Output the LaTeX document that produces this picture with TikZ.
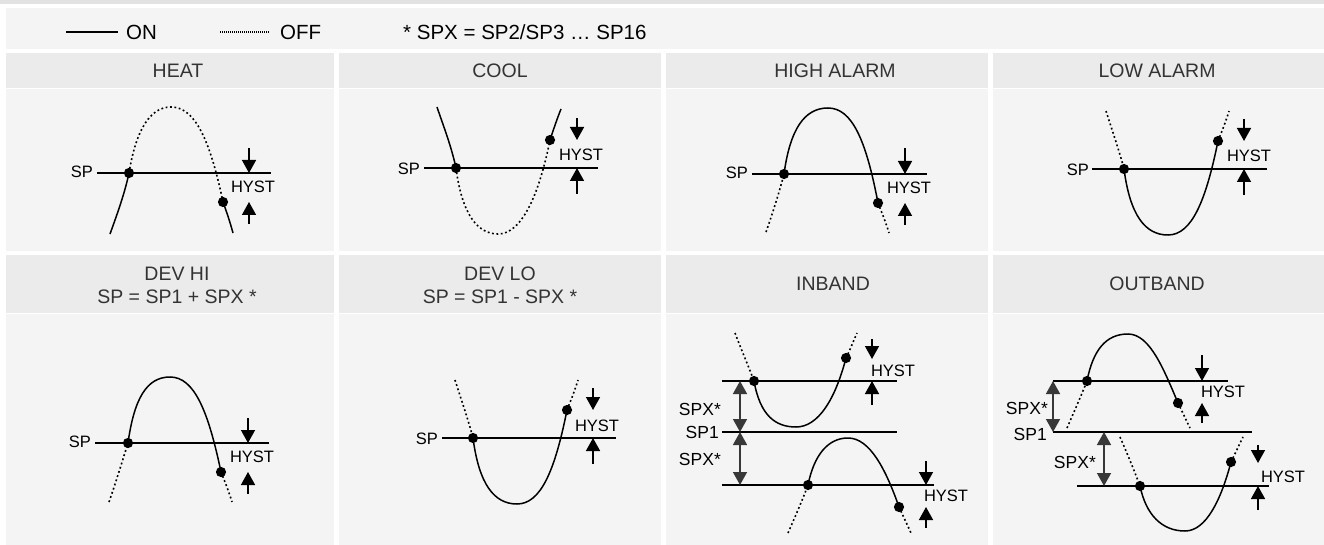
\documentclass[tikz,border=0pt]{standalone}
\usepackage{fontspec}
\setmainfont{Liberation Sans}
\usetikzlibrary{arrows.meta}
\definecolor{hdr}{HTML}{EAEBEA}
\definecolor{bod}{HTML}{F4F4F4}
\definecolor{topband}{HTML}{E2E2E2}
\definecolor{hdrtxt}{HTML}{333333}
\definecolor{dblarr}{HTML}{383838}
\begin{document}
\begin{tikzpicture}[x=1pt,y=-1pt,
  curveon/.style={line width=1.5pt},
  curveoff/.style={line width=1.6pt, dash pattern=on 1.8pt off 2.6pt},
  spline/.style={line width=1.5pt},
  lbl/.style={font=\fontsize{16.5}{18}\selectfont, inner sep=0pt},
  biglbl/.style={font=\fontsize{17.5}{19}\selectfont, inner sep=0pt},
  legendtxt/.style={font=\fontsize{20.5}{23}\selectfont, inner sep=0pt, anchor=west},
  hdrlbl/.style={font=\fontsize{19.5}{23}\selectfont, text=hdrtxt, align=center, inner sep=0pt},
  hyarrow/.style={line width=1.5pt, -{Triangle[length=13pt,width=14pt]}},
  dblarrow/.style={draw=dblarr, line width=1.5pt, {Triangle[length=13pt,width=14pt]}-{Triangle[length=13pt,width=14pt]}},
  dotmark/.style={fill=black}
]
\useasboundingbox (0,0) rectangle (1324,545);
% backgrounds
\fill[white] (0,0) rectangle (1324,545);
\fill[topband] (0,0) rectangle (1324,4);
\fill[bod] (6,8) rectangle (1324,49);
\foreach \a/\b in {6/334, 339/661, 666/988, 993/1324} {
  \fill[hdr] (\a,53) rectangle (\b,88);
  \fill[bod] (\a,89) rectangle (\b,251);
  \fill[hdr] (\a,255) rectangle (\b,313);
  \fill[bod] (\a,314) rectangle (\b,545);
}
% legend
\coordinate (onA) at (66,32); \coordinate (onB) at (118,32);
\draw[line width=1.1pt] (onA) -- (onB);
\node[legendtxt] (on) at (126,32) {ON};
\coordinate (offA) at (220,32); \coordinate (offB) at (270,32);
\draw[line width=1.1pt, dash pattern=on 1pt off 1pt] (offA) -- (offB);
\node[legendtxt] (off) at (280,32) {OFF};
\node[legendtxt] (spxnote) at (403,32) {* SPX = SP2/SP3 … SP16};
% headers
\node[hdrlbl] (t1) at (178,70.5) {HEAT};
\node[hdrlbl] (t2) at (500,70.5) {COOL};
\node[hdrlbl] (t3) at (835,70.5) {HIGH ALARM};
\node[hdrlbl] (t4) at (1157,70.5) {LOW ALARM};
\node[hdrlbl] (t5) at (177,285.5) {DEV HI\\SP = SP1 + SPX *};
\node[hdrlbl] (t6) at (500,285.5) {DEV LO\\SP = SP1 - SPX *};
\node[hdrlbl] (t7) at (833,283.5) {INBAND};
\node[hdrlbl] (t8) at (1157,283.5) {OUTBAND};

% ---------- HEAT ----------
\coordinate (hl) at (97,173); \coordinate (hr) at (271,173);
\draw[spline] (hl) -- (hr);
\node[lbl, anchor=east] (hsp) at (93,172) {SP};
\coordinate (hd1) at (129,173); \coordinate (hd2) at (223,202);
\coordinate (hs) at (110,234); \coordinate (he) at (233,233);
\draw[curveon] (hs) .. controls (118,212) and (125,192) .. (hd1);
\draw[curveoff] (hd1) .. controls (136,130) and (150,107) .. (171,107) .. controls (195,107) and (210,140) .. (hd2);
\draw[curveon] (hd2) .. controls (227,213) and (230,222) .. (he);
\fill[dotmark] (hd1) circle[radius=5.1pt]; \fill[dotmark] (hd2) circle[radius=5.1pt];
\coordinate (ha1) at (249,148); \coordinate (ha1t) at (249,173);
\coordinate (ha2) at (249,224); \coordinate (ha2t) at (249,202);
\draw[hyarrow] (ha1) -- (ha1t); \draw[hyarrow] (ha2) -- (ha2t);
\node[lbl] (hhy) at (253,187) {HYST};

% ---------- COOL ----------
\coordinate (cl) at (424,168); \coordinate (cr) at (598,168);
\draw[spline] (cl) -- (cr);
\node[lbl, anchor=east] (csp) at (420,169) {SP};
\coordinate (cd1) at (456,168); \coordinate (cd2) at (550,140);
\coordinate (cs) at (437,107); \coordinate (ce) at (561,109);
\draw[curveon] (cs) .. controls (443,125) and (451,145) .. (cd1);
\draw[curveoff] (cd1) .. controls (462,215) and (478,234) .. (498,234) .. controls (520,234) and (538,200) .. (cd2);
\draw[curveon] (cd2) .. controls (554,128) and (557,119) .. (ce);
\fill[dotmark] (cd1) circle[radius=5.1pt]; \fill[dotmark] (cd2) circle[radius=5.1pt];
\coordinate (ca1) at (577,118); \coordinate (ca1t) at (577,140);
\coordinate (ca2) at (577,194); \coordinate (ca2t) at (577,168);
\draw[hyarrow] (ca1) -- (ca1t); \draw[hyarrow] (ca2) -- (ca2t);
\node[lbl] (chy) at (581,155) {HYST};

% ---------- HIGH ALARM ----------
\coordinate (al) at (752,174); \coordinate (ar) at (927,174);
\draw[spline] (al) -- (ar);
\node[lbl, anchor=east] (asp) at (748,173) {SP};
\coordinate (ad1) at (784,174); \coordinate (ad2) at (878,203);
\coordinate (as) at (766,232); \coordinate (ae) at (889,233);
\draw[curveoff] (as) .. controls (773,212) and (779,193) .. (ad1);
\draw[curveon] (ad1) .. controls (790,130) and (804,108) .. (828,108) .. controls (852,108) and (866,140) .. (ad2);
\draw[curveoff] (ad2) .. controls (882,213) and (886,223) .. (ae);
\fill[dotmark] (ad1) circle[radius=5.1pt]; \fill[dotmark] (ad2) circle[radius=5.1pt];
\coordinate (aa1) at (905,148); \coordinate (aa1t) at (905,174);
\coordinate (aa2) at (905,225); \coordinate (aa2t) at (905,203);
\draw[hyarrow] (aa1) -- (aa1t); \draw[hyarrow] (aa2) -- (aa2t);
\node[lbl] (ahy) at (909,188) {HYST};

% ---------- LOW ALARM ----------
\coordinate (ll) at (1092,169); \coordinate (lr) at (1267,169);
\draw[spline] (ll) -- (lr);
\node[lbl, anchor=east] (lsp) at (1089,170) {SP};
\coordinate (ld1) at (1124,169); \coordinate (ld2) at (1218,141);
\coordinate (ls) at (1106,111); \coordinate (le) at (1229,111);
\draw[curveoff] (ls) .. controls (1112,130) and (1119,150) .. (ld1);
\draw[curveon] (ld1) .. controls (1130,215) and (1145,235) .. (1168,235) .. controls (1192,235) and (1206,200) .. (ld2);
\draw[curveoff] (ld2) .. controls (1222,131) and (1226,121) .. (le);
\fill[dotmark] (ld1) circle[radius=5.1pt]; \fill[dotmark] (ld2) circle[radius=5.1pt];
\coordinate (la1) at (1244,119); \coordinate (la1t) at (1244,141);
\coordinate (la2) at (1244,195); \coordinate (la2t) at (1244,169);
\draw[hyarrow] (la1) -- (la1t); \draw[hyarrow] (la2) -- (la2t);
\node[lbl] (lhy) at (1249,156) {HYST};

% ---------- DEV HI ----------
\coordinate (vl) at (95,443); \coordinate (vr) at (269,443);
\draw[spline] (vl) -- (vr);
\node[lbl, anchor=east] (vsp) at (91,442) {SP};
\coordinate (vd1) at (128,443); \coordinate (vd2) at (221,472);
\coordinate (vs) at (109,502); \coordinate (ve) at (232,502);
\draw[curveoff] (vs) .. controls (116,482) and (122,462) .. (vd1);
\draw[curveon] (vd1) .. controls (134,400) and (146,377) .. (170,377) .. controls (194,377) and (208,410) .. (vd2);
\draw[curveoff] (vd2) .. controls (225,482) and (229,492) .. (ve);
\fill[dotmark] (vd1) circle[radius=5.1pt]; \fill[dotmark] (vd2) circle[radius=5.1pt];
\coordinate (va1) at (248,418); \coordinate (va1t) at (248,443);
\coordinate (va2) at (248,494); \coordinate (va2t) at (248,472);
\draw[hyarrow] (va1) -- (va1t); \draw[hyarrow] (va2) -- (va2t);
\node[lbl] (vhy) at (252,457) {HYST};

% ---------- DEV LO ----------
\coordinate (wl) at (442,438); \coordinate (wr) at (616,438);
\draw[spline] (wl) -- (wr);
\node[lbl, anchor=east] (wsp) at (438,439) {SP};
\coordinate (wd1) at (473,438); \coordinate (wd2) at (567,410);
\coordinate (ws) at (455,380); \coordinate (we) at (578,380);
\draw[curveoff] (ws) .. controls (461,399) and (468,419) .. (wd1);
\draw[curveon] (wd1) .. controls (479,484) and (494,504) .. (517,504) .. controls (541,504) and (555,470) .. (wd2);
\draw[curveoff] (wd2) .. controls (571,400) and (575,390) .. (we);
\fill[dotmark] (wd1) circle[radius=5.1pt]; \fill[dotmark] (wd2) circle[radius=5.1pt];
\coordinate (wa1) at (593,388); \coordinate (wa1t) at (593,410);
\coordinate (wa2) at (593,464); \coordinate (wa2t) at (593,438);
\draw[hyarrow] (wa1) -- (wa1t); \draw[hyarrow] (wa2) -- (wa2t);
\node[lbl] (why) at (597,426) {HYST};

% ---------- INBAND ----------
\coordinate (iul) at (722,381); \coordinate (iur) at (897,381);
\coordinate (iml) at (722,432); \coordinate (imr) at (897,432);
\coordinate (ill) at (722,485); \coordinate (ilr) at (934,485);
\draw[spline] (iul) -- (iur);
\draw[spline] (iml) -- (imr);
\draw[spline] (ill) -- (ilr);
\coordinate (ib1) at (740,381); \coordinate (ib2) at (740,432); \coordinate (ib3) at (740,485);
\draw[dblarrow] (ib1) -- (ib2);
\draw[dblarrow] (ib2) -- (ib3);
\node[biglbl, anchor=east] (ix1) at (721,409) {SPX*};
\node[biglbl, anchor=east] (isp1) at (719,432) {SP1};
\node[biglbl, anchor=east] (ix2) at (721,459) {SPX*};
\coordinate (ius) at (735,333); \coordinate (iud1) at (754,381);
\coordinate (iud2) at (846,358); \coordinate (iue) at (857,333);
\draw[curveoff] (ius) .. controls (741,349) and (748,365) .. (iud1);
\draw[curveon] (iud1) .. controls (760,415) and (775,427) .. (796,427) .. controls (818,427) and (835,400) .. (iud2);
\draw[curveoff] (iud2) .. controls (850,350) and (853,342) .. (iue);
\fill[dotmark] (iud1) circle[radius=5.1pt]; \fill[dotmark] (iud2) circle[radius=5.1pt];
\coordinate (iua1) at (872,339); \coordinate (iua1t) at (872,359);
\coordinate (iua2) at (872,405); \coordinate (iua2t) at (872,381);
\draw[hyarrow] (iua1) -- (iua1t); \draw[hyarrow] (iua2) -- (iua2t);
\node[lbl] (iuhy) at (893,371) {HYST};
\coordinate (ils) at (788,533); \coordinate (ild1) at (808,485);
\coordinate (ild2) at (899,507); \coordinate (ile) at (911,533);
\draw[curveoff] (ils) .. controls (795,517) and (802,501) .. (ild1);
\draw[curveon] (ild1) .. controls (814,455) and (828,438) .. (848,438) .. controls (870,438) and (886,470) .. (ild2);
\draw[curveoff] (ild2) .. controls (903,516) and (907,524) .. (ile);
\fill[dotmark] (ild1) circle[radius=5.1pt]; \fill[dotmark] (ild2) circle[radius=5.1pt];
\coordinate (ila1) at (926,461); \coordinate (ila1t) at (926,485);
\coordinate (ila2) at (926,528); \coordinate (ila2t) at (926,507);
\draw[hyarrow] (ila1) -- (ila1t); \draw[hyarrow] (ila2) -- (ila2t);
\node[lbl] (ilhy) at (946,496) {HYST};

% ---------- OUTBAND ----------
\coordinate (oul) at (1053,381); \coordinate (our) at (1228,381);
\coordinate (oml) at (1053,432); \coordinate (omr) at (1252,432);
\coordinate (oll) at (1077,486); \coordinate (olr) at (1269,486);
\draw[spline] (oul) -- (our);
\draw[spline] (oml) -- (omr);
\draw[spline] (oll) -- (olr);
\coordinate (ob1) at (1053,381); \coordinate (ob2) at (1053,432);
\coordinate (ob3) at (1104,432); \coordinate (ob4) at (1104,486);
\draw[dblarrow] (ob1) -- (ob2);
\draw[dblarrow] (ob3) -- (ob4);
\node[biglbl, anchor=east] (ox1) at (1048,408) {SPX*};
\node[biglbl, anchor=east] (osp1) at (1047,434) {SP1};
\node[biglbl, anchor=east] (ox2) at (1096,462) {SPX*};
\coordinate (ous) at (1067,428); \coordinate (oud1) at (1087,381);
\coordinate (oud2) at (1178,403); \coordinate (oue) at (1190,428);
\draw[curveoff] (ous) .. controls (1074,412) and (1081,396) .. (oud1);
\draw[curveon] (oud1) .. controls (1093,350) and (1106,334) .. (1128,334) .. controls (1150,334) and (1164,370) .. (oud2);
\draw[curveoff] (oud2) .. controls (1182,411) and (1186,420) .. (oue);
\fill[dotmark] (oud1) circle[radius=5.1pt]; \fill[dotmark] (oud2) circle[radius=5.1pt];
\coordinate (oua1) at (1202,355); \coordinate (oua1t) at (1202,381);
\coordinate (oua2) at (1202,423); \coordinate (oua2t) at (1202,403);
\draw[hyarrow] (oua1) -- (oua1t); \draw[hyarrow] (oua2) -- (oua2t);
\node[lbl] (ouhy) at (1223,392) {HYST};
\coordinate (ols) at (1120,437); \coordinate (old1) at (1140,486);
\coordinate (old2) at (1231,462); \coordinate (ole) at (1243,437);
\draw[curveoff] (ols) .. controls (1127,453) and (1134,470) .. (old1);
\draw[curveon] (old1) .. controls (1146,515) and (1162,531) .. (1185,531) .. controls (1206,531) and (1221,500) .. (old2);
\draw[curveoff] (old2) .. controls (1235,454) and (1239,445) .. (ole);
\fill[dotmark] (old1) circle[radius=5.1pt]; \fill[dotmark] (old2) circle[radius=5.1pt];
\coordinate (ola1) at (1258,445); \coordinate (ola1t) at (1258,463);
\coordinate (ola2) at (1258,510); \coordinate (ola2t) at (1258,486);
\draw[hyarrow] (ola1) -- (ola1t); \draw[hyarrow] (ola2) -- (ola2t);
\node[lbl] (olhy) at (1283,477) {HYST};
\end{tikzpicture}
\end{document}
